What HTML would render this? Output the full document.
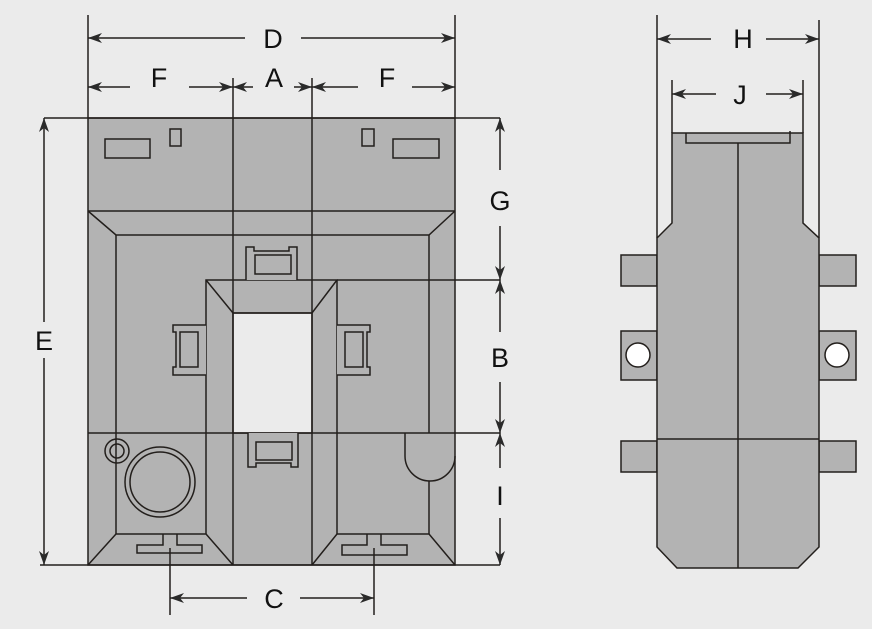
<!DOCTYPE html>
<html><head><meta charset="utf-8"><style>
html,body{margin:0;padding:0;background:#ebebeb;}
svg{display:block}
text{font-family:"Liberation Sans",sans-serif;font-size:27px;fill:#111;text-anchor:middle}
</style></head><body>
<svg width="872" height="629" viewBox="0 0 872 629" xmlns="http://www.w3.org/2000/svg">
<defs>
<marker id="a" viewBox="0 0 14 10" refX="14" refY="5" markerWidth="14" markerHeight="10" markerUnits="userSpaceOnUse" orient="auto">
<path d="M0,0 L14,5 L0,10 L4,5 z" fill="#2a2a2a"/>
</marker>
</defs>
<rect width="872" height="629" fill="#ebebeb"/>
<g stroke="#231f1c" stroke-width="1.5" fill="#b3b3b3">
<!-- front body -->
<rect x="88" y="118" width="367" height="447"/>
<!-- window -->
<rect x="233" y="313" width="79" height="120" fill="#ebebeb"/>
<g fill="none">
<line x1="233" y1="118" x2="233" y2="565"/>
<line x1="312" y1="118" x2="312" y2="565"/>
<line x1="88" y1="211" x2="455" y2="211"/>
<path d="M88,211 L116,235 L429,235 L455,211"/>
<line x1="116" y1="235" x2="116" y2="534"/>
<path d="M429,235 L429,433"/>
<path d="M405,433 L405,456 A25,25 0 0 0 455,456"/>
<line x1="429" y1="481" x2="429" y2="534"/>
<path d="M206,534 L206,280 L337,280 L337,534"/>
<path d="M206,280 L233,313 L312,313 L337,280"/>
<line x1="88" y1="433" x2="500" y2="433"/>
<line x1="337" y1="280" x2="500" y2="280"/>
<path d="M88,565 L116,534 L206,534 L233,565"/>
<path d="M312,565 L337,534 L429,534 L455,565"/>
<!-- top small rects -->
<rect x="105" y="139" width="45" height="19"/>
<rect x="170" y="129" width="11" height="17"/>
<rect x="362" y="129" width="12" height="17"/>
<rect x="393" y="139" width="46" height="19"/>
<!-- circles -->
<circle cx="117" cy="451" r="12"/><circle cx="117" cy="451" r="7"/>
<circle cx="160" cy="482" r="35"/><circle cx="160" cy="482" r="30"/>
<!-- center clips -->
<path d="M246,280 L246,247 L254,247 L254,251 L289,251 L289,247 L297,247 L297,280" fill="#b3b3b3"/>
<rect x="255" y="255" width="36" height="19"/>
<path d="M248,433 L248,467 L256,467 L256,463 L291,463 L291,467 L298,467 L298,433" fill="#b3b3b3"/>
<rect x="256" y="442" width="36" height="18"/>
<!-- side clips -->
<path d="M206,325 L173,325 L173,332 L176,332 L176,367 L173,367 L173,375 L206,375" fill="#b3b3b3"/>
<rect x="180" y="332" width="18" height="35"/>
<path d="M337,325 L370,325 L370,332 L367,332 L367,367 L370,367 L370,375 L337,375" fill="#b3b3b3"/>
<rect x="345" y="332" width="18" height="35"/>
<!-- T slots -->
<path d="M163,534 L163,545 L137,545 L137,553 L202,553 L202,545 L177,545 L177,534"/>
<path d="M367,534 L367,545 L342,545 L342,555 L407,555 L407,545 L381,545 L381,534"/>
</g>
<!-- side view -->
<rect x="621" y="255" width="36" height="31"/>
<rect x="621" y="331" width="36" height="49"/>
<rect x="621" y="441" width="36" height="31"/>
<rect x="819" y="255" width="37" height="31"/>
<rect x="819" y="331" width="37" height="49"/>
<rect x="819" y="441" width="37" height="31"/>
<circle cx="638" cy="355" r="12" fill="#fff"/>
<circle cx="837" cy="355" r="12" fill="#fff"/>
<path d="M672,133 L803,133 L803,223 L819,238 L819,547 L798,568 L677,568 L657,547 L657,238 L672,223 Z"/>
<path d="M686,133 L686,143 L790,143 L790,131" fill="none"/>
<line x1="738" y1="143" x2="738" y2="568"/>
<line x1="657" y1="439" x2="819" y2="439"/>
<!-- extension lines -->
<g fill="none">
<line x1="88" y1="15" x2="88" y2="118"/>
<line x1="455" y1="15" x2="455" y2="118"/>
<line x1="233" y1="78" x2="233" y2="118"/>
<line x1="312" y1="78" x2="312" y2="118"/>
<line x1="44" y1="118" x2="500" y2="118"/>
<line x1="40" y1="565" x2="500" y2="565"/>
<line x1="170" y1="548" x2="170" y2="615"/>
<line x1="374" y1="548" x2="374" y2="615"/>
<line x1="657" y1="15" x2="657" y2="238"/>
<line x1="819" y1="20" x2="819" y2="238"/>
<line x1="672" y1="80" x2="672" y2="133"/>
<line x1="803" y1="80" x2="803" y2="133"/>
</g>
</g>
<!-- dimension arrows -->
<g stroke="#231f1c" stroke-width="1.5" marker-end="url(#a)">
<line x1="245" y1="38" x2="88" y2="38"/>
<line x1="301" y1="38" x2="455" y2="38"/>
<line x1="130" y1="87" x2="88" y2="87"/>
<line x1="189" y1="87" x2="233" y2="87"/>
<line x1="253" y1="87" x2="233" y2="87"/>
<line x1="294" y1="87" x2="312" y2="87"/>
<line x1="358" y1="87" x2="312" y2="87"/>
<line x1="412" y1="87" x2="455" y2="87"/>
<line x1="44" y1="322" x2="44" y2="118"/>
<line x1="44" y1="358" x2="44" y2="565"/>
<line x1="500" y1="170" x2="500" y2="118"/>
<line x1="500" y1="226" x2="500" y2="280"/>
<line x1="500" y1="332" x2="500" y2="280"/>
<line x1="500" y1="382" x2="500" y2="433"/>
<line x1="500" y1="468" x2="500" y2="433"/>
<line x1="500" y1="518" x2="500" y2="565"/>
<line x1="247" y1="598" x2="170" y2="598"/>
<line x1="300" y1="598" x2="374" y2="598"/>
<line x1="711" y1="39" x2="657" y2="39"/>
<line x1="766" y1="39" x2="819" y2="39"/>
<line x1="716" y1="94" x2="672" y2="94"/>
<line x1="766" y1="94" x2="803" y2="94"/>
</g>
<g>
<text x="273" y="48">D</text>
<text x="159" y="87">F</text>
<text x="274" y="87">A</text>
<text x="387" y="87">F</text>
<text x="44" y="350">E</text>
<text x="500" y="210">G</text>
<text x="500" y="367">B</text>
<text x="500" y="505">I</text>
<text x="274" y="608">C</text>
<text x="743" y="48">H</text>
<text x="740" y="104">J</text>
</g>
</svg>
</body></html>
